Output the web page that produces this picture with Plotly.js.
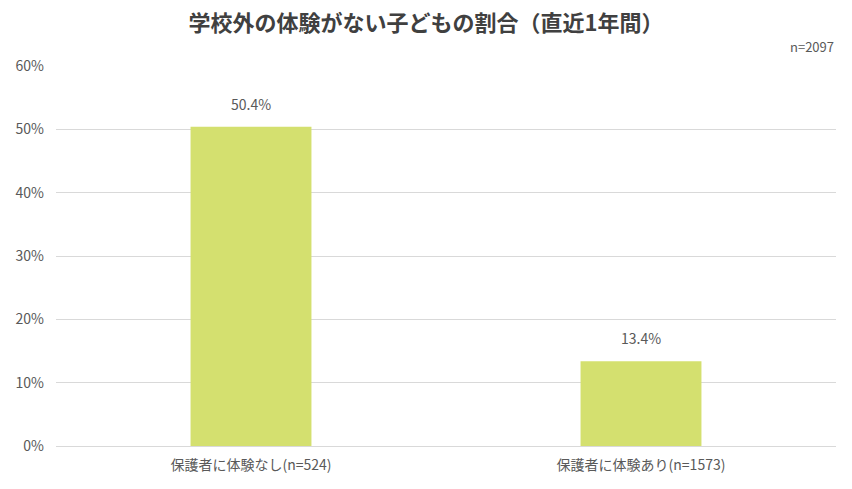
<!DOCTYPE html>
<html lang="ja">
<head>
    <meta charset="utf-8">
    <title>学校外の体験がない子どもの割合</title>
    <script src="https://cdn.plot.ly/plotly-3.0.1.min.js"></script>
    <style>
        html, body { margin: 0; padding: 0; background: #fff; }
        #plot { width: 852px; height: 489px; }
    </style>
</head>
<body>
    <div id="plot"></div>
    <script>
        const categories = ['保護者に体験なし(n=524)', '保護者に体験あり(n=1573)'];
        const shares = [50.4, 13.4];
        const tickValues = [0, 10, 20, 30, 40, 50, 60];
        const tickLabels = ['0%', '10%', '20%', '30%', '40%', '50%', '60%'];

        const font = '"Noto Sans CJK JP", "Noto Sans", sans-serif';

        const bars = {
            type: 'bar',
            x: categories,
            y: shares,
            width: 0.31,
            marker: { color: '#d4e06f' },
            hoverinfo: 'x+y'
        };

        // value labels sit a little above each bar
        const valueLabels = categories.map(function (c, i) {
            return {
                x: c,
                y: shares[i],
                xref: 'x',
                yref: 'y',
                text: shares[i].toFixed(1) + '%',
                showarrow: false,
                yanchor: 'bottom',
                yshift: 11,
                font: { family: font, size: 14, color: '#595959' }
            };
        });

        const layout = {
            width: 852,
            height: 489,
            margin: { l: 56, r: 16, t: 66, b: 43 },
            paper_bgcolor: '#ffffff',
            plot_bgcolor: '#ffffff',
            font: { family: font, color: '#595959', size: 14 },
            title: {
                text: '<b>学校外の体験がない子どもの割合（直近1年間）</b>',
                font: { family: font, size: 22, color: '#404040' },
                x: 0.5,
                xanchor: 'center',
                y: 0.952,
                yanchor: 'middle'
            },
            xaxis: {
                showgrid: false,
                showline: false,
                zeroline: false,
                ticks: '',
                ticklabelstandoff: 9,
                tickfont: { family: font, size: 14, color: '#595959' }
            },
            yaxis: {
                range: [0, 60],
                tickvals: tickValues,
                ticktext: tickLabels,
                showgrid: true,
                gridcolor: '#d9d9d9',
                gridwidth: 1,
                zeroline: true,
                zerolinecolor: '#d9d9d9',
                zerolinewidth: 1,
                showline: false,
                ticks: '',
                ticklabelstandoff: 11,
                tickfont: { family: font, size: 14, color: '#595959' }
            },
            annotations: valueLabels.concat([{
                text: 'n=2097',
                xref: 'paper',
                yref: 'paper',
                x: 1,
                y: 1.022,
                xanchor: 'right',
                yanchor: 'bottom',
                showarrow: false,
                font: { family: font, size: 13, color: '#595959' }
            }]),
            showlegend: false,
            bargap: 0.69
        };

        Plotly.newPlot('plot', [bars], layout, { displayModeBar: false, staticPlot: true });
    </script>
</body>
</html>
